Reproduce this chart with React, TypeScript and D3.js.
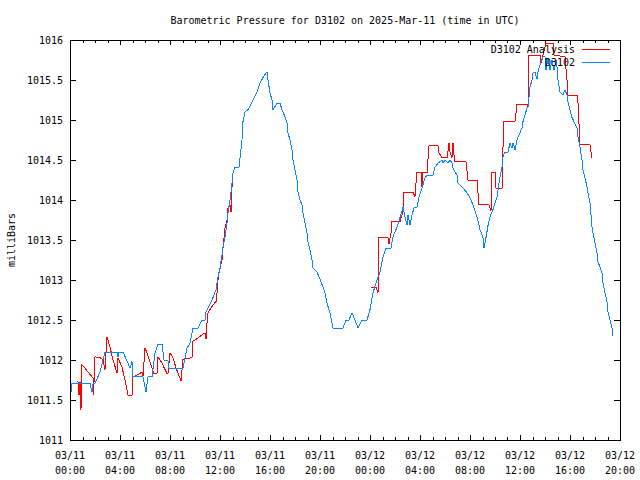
import React from "react";
import * as d3 from "d3";

// Hours since 2025-03-11 00:00 UTC and pressure (mb)
const stationHours = [
  0, 0.16, 1.6, 1.76, 1.84, 2.0, 2.4, 2.64, 2.8, 3.76, 3.84, 3.88, 4.24, 4.64, 4.8, 4.96, 5.04, 5.84, 6.08, 6.24,
  6.56, 6.8, 7.04, 7.36, 7.52, 7.84, 7.92, 9.04, 9.36, 9.6, 9.84, 10.24, 10.56, 10.8, 10.84, 11.04, 11.44, 11.68,
  11.84, 12.0, 12.24, 12.4, 12.56, 12.64, 12.8, 12.96, 13.04, 13.2, 13.52, 13.68, 13.76, 13.84, 14.0, 14.24, 14.64,
  14.96, 15.2, 15.44, 15.68, 15.76, 15.84, 16.0, 16.16, 16.24, 16.56, 16.8, 16.96, 17.2, 17.36, 17.44, 17.6, 17.76,
  17.84, 18.0, 18.16, 18.24, 18.4, 18.56, 18.64, 18.8, 18.96, 19.04, 19.2, 19.36, 19.44, 19.76, 20.0, 20.24, 20.4,
  20.56, 20.8, 21.04, 21.84, 22.08, 22.32, 22.56, 22.8, 23.04, 23.36, 23.76, 24.0, 24.24, 24.56, 24.8, 25.04, 25.28,
  25.68, 25.84, 26.16, 26.4, 26.64, 26.8, 26.96, 27.04, 27.2, 27.36, 27.52, 27.76, 27.92, 28.16, 28.4, 28.56, 29.04,
  29.2, 29.44, 29.76, 29.84, 30.0, 30.24, 30.4, 30.56, 30.64, 30.96, 31.04, 31.44, 31.76, 32.0, 32.24, 32.56, 32.8,
  33.04, 33.12, 33.28, 33.44, 33.6, 33.84, 34.16, 34.4, 34.56, 34.64, 34.8, 35.04, 35.2, 35.36, 35.44, 35.6, 35.76,
  35.84, 36.0, 36.16, 36.24, 36.4, 36.56, 36.64, 36.8, 36.96, 37.04, 37.2, 37.36, 37.44, 37.6, 37.76, 37.84, 38.0,
  38.08, 38.24, 38.4, 38.56, 38.72, 38.88, 38.96, 39.04, 39.2, 39.44, 39.6, 39.76, 39.84, 40.0, 40.16, 40.32, 40.56,
  40.64, 40.8, 40.96, 41.04, 41.2, 41.36, 41.44, 41.6, 41.68, 41.76, 41.84, 42.0, 42.16, 42.24, 42.4, 42.56, 42.64,
  42.8, 42.96, 43.04, 43.2, 43.36, 43.4,
];
const stationPressure = [
  1011.5, 1011.71, 1011.71, 1011.6, 1011.7, 1011.71, 1011.85, 1012.0, 1012.1, 1012.1, 1012.04, 1012.1, 1012.1,
  1011.96, 1011.9, 1011.98, 1011.79, 1011.79, 1011.6, 1011.79, 1011.79, 1012.09, 1012.2, 1012.2, 1012.0, 1011.99,
  1011.9, 1011.9, 1012.15, 1012.21, 1012.4, 1012.4, 1012.5, 1012.5, 1012.59, 1012.65, 1012.78, 1012.88, 1013.04,
  1013.15, 1013.4, 1013.54, 1013.71, 1013.84, 1014.0, 1014.21, 1014.34, 1014.41, 1014.41, 1014.63, 1014.75, 1014.98,
  1015.1, 1015.13, 1015.25, 1015.35, 1015.46, 1015.53, 1015.59, 1015.6, 1015.5, 1015.34, 1015.25, 1015.13, 1015.21,
  1015.21, 1015.13, 1015.04, 1014.96, 1014.84, 1014.75, 1014.63, 1014.5, 1014.38, 1014.25, 1014.1, 1014.0, 1013.94,
  1013.84, 1013.71, 1013.59, 1013.48, 1013.38, 1013.25, 1013.15, 1013.1, 1013.01, 1012.91, 1012.84, 1012.71,
  1012.59, 1012.4, 1012.4, 1012.5, 1012.5, 1012.59, 1012.5, 1012.4, 1012.5, 1012.5, 1012.63, 1012.84, 1013.0,
  1013.1, 1013.29, 1013.4, 1013.4, 1013.54, 1013.66, 1013.78, 1013.91, 1013.79, 1013.69, 1013.81, 1013.69, 1013.81,
  1013.9, 1013.91, 1014.04, 1014.15, 1014.28, 1014.31, 1014.31, 1014.41, 1014.46, 1014.5, 1014.46, 1014.5, 1014.46,
  1014.5, 1014.46, 1014.4, 1014.31, 1014.21, 1014.15, 1014.09, 1014.03, 1013.94, 1013.79, 1013.63, 1013.53, 1013.4,
  1013.53, 1013.68, 1013.79, 1013.88, 1014.04, 1014.29, 1014.41, 1014.54, 1014.6, 1014.6, 1014.71, 1014.65,
  1014.71, 1014.63, 1014.75, 1014.79, 1014.84, 1014.9, 1014.98, 1015.06, 1015.15, 1015.16, 1015.41, 1015.5,
  1015.59, 1015.6, 1015.51, 1015.6, 1015.69, 1015.75, 1015.79, 1015.79, 1015.63, 1015.78, 1015.63, 1015.75,
  1015.63, 1015.75, 1015.66, 1015.5, 1015.35, 1015.31, 1015.38, 1015.31, 1015.23, 1015.13, 1015.03, 1014.98,
  1014.9, 1014.79, 1014.66, 1014.5, 1014.38, 1014.28, 1014.16, 1014.09, 1013.96, 1013.81, 1013.66, 1013.59,
  1013.46, 1013.34, 1013.23, 1013.16, 1013.09, 1012.96, 1012.84, 1012.73, 1012.6, 1012.5, 1012.4, 1012.3,
];

// Analysis series (null = missing data gap)
const analysisHours = [
  0.56, 0.64, 0.72, 0.8, 0.88, 0.96, 1.2, 1.44, 1.76, 1.84, 1.88, 2.0, 2.4, 2.64, 2.8, 2.96, 3.04, 3.2, 3.44, 3.76,
  3.84, 3.92, 4.16, 4.4, 4.64, 4.96, 5.04, 5.36, 5.76, 5.84, 6.0, 6.16, 6.48, 6.72, 6.96, 7.04, 7.36, 7.76, 7.84,
  8.0, 8.24, 8.48, 8.88, 9.04, 9.76, 9.84, 10.0, 10.8, 10.88, 10.96, 11.04, 11.44, 11.68, 11.76, 11.84, 11.92,
  12.16, 12.24, 12.4, 12.56, 12.64, 12.8, 12.88, 12.96, 13.04,
  18.5,
  24.08, 24.48, 24.64, 24.68, 24.72, 25.44, 25.52, 25.68, 25.76, 26.4, 26.56, 26.64, 26.72, 27.44, 27.6, 27.68,
  27.76, 28.08, 28.16, 28.24, 28.48, 28.56, 28.72, 29.44, 29.52, 29.76, 30.16, 30.24, 30.32, 30.4, 30.56, 30.64,
  30.68, 30.8, 31.68, 31.84, 32.56, 32.72, 33.52, 33.68, 33.76, 34.0, 34.08, 34.56, 34.64, 34.72, 35.6, 35.76,
  36.56, 36.64, 36.72, 37.6, 37.68, 37.84, 38.08, 38.64, 38.72, 39.6, 39.76, 39.8, 40.56, 40.64, 40.8, 41.6, 41.68,
  41.76,
];
const analysisPressure: (number | null)[] = [
  1011.73, 1011.73, 1011.56, 1011.73, 1011.38, 1011.94, 1011.9, 1011.85, 1011.79, 1011.78, 1011.56, 1012.04,
  1012.03, 1012.0, 1011.88, 1012.29, 1012.25, 1012.16, 1012.0, 1011.84, 1012.03, 1012.0, 1011.91, 1011.75, 1011.56,
  1011.56, 1011.79, 1011.81, 1011.85, 1011.79, 1012.15, 1012.09, 1011.94, 1011.83, 1011.83, 1012.04, 1011.96,
  1011.83, 1011.83, 1012.09, 1012.03, 1011.9, 1011.74, 1012.01, 1012.03, 1012.24, 1012.25, 1012.34, 1012.26,
  1012.46, 1012.59, 1012.69, 1012.73, 1012.84, 1013.0, 1013.09, 1013.25, 1013.41, 1013.65, 1013.75, 1013.9,
  1013.94, 1013.85, 1014.16, 1014.29,
  null,
  1012.91, 1012.91, 1012.84, 1013.19, 1013.53, 1013.53, 1013.45, 1013.59, 1013.73, 1013.73, 1013.81, 1013.88,
  1014.1, 1014.1, 1014.04, 1014.21, 1014.35, 1014.35, 1014.16, 1014.35, 1014.35, 1014.34, 1014.68, 1014.68,
  1014.59, 1014.53, 1014.53, 1014.61, 1014.71, 1014.6, 1014.53, 1014.71, 1014.6, 1014.48, 1014.48, 1014.25,
  1014.25, 1013.94, 1013.94, 1013.86, 1014.35, 1014.35, 1014.15, 1014.15, 1014.66, 1014.98, 1014.98, 1015.2,
  1015.2, 1015.16, 1015.81, 1015.81, 1015.71, 1015.81, 1015.96, 1015.96, 1015.81, 1015.79, 1015.5, 1015.31,
  1015.31, 1015.21, 1014.69, 1014.69, 1014.6, 1014.53,
];

const yTicks = [1011, 1011.5, 1012, 1012.5, 1013, 1013.5, 1014, 1014.5, 1015, 1015.5, 1016];
const xTickHours = [0, 4, 8, 12, 16, 20, 24, 28, 32, 36, 40, 44];
const xTickDates = ["03/11", "03/11", "03/11", "03/11", "03/11", "03/11", "03/12", "03/12", "03/12", "03/12", "03/12", "03/12"];
const xTickTimes = ["00:00", "04:00", "08:00", "12:00", "16:00", "20:00", "00:00", "04:00", "08:00", "12:00", "16:00", "20:00"];
const minorHours = d3.range(0, 45, 1);

const title = "Barometric Pressure for D3102 on 2025-Mar-11 (time in UTC)";
const seriesNames = ["D3102 Analysis", "D3102"];
const seriesColors = ["#ff0000", "#0a84ff"];

const W = 640, H = 480;
const L = 70, R = 620, T = 40, B = 440;
const FONT = "'DejaVu Sans Mono', 'Liberation Mono', monospace";

export default function App() {
  const x = d3.scaleLinear().domain([0, 44]).range([L, R]);
  const y = d3.scaleLinear().domain([1011, 1016]).range([B, T]);

  const line = d3
    .line<[number, number | null]>()
    .defined((d) => d[1] != null)
    .x((d) => x(d[0]))
    .y((d) => y(d[1] as number));

  const analysis = analysisHours.map((h, i) => [h, analysisPressure[i]] as [number, number | null]);
  const station = stationHours.map((h, i) => [h, stationPressure[i]] as [number, number | null]);

  return (
    <svg
      width={W}
      height={H}
      style={{ position: "absolute", left: 0, top: 0, background: "#fff" }}
      fontFamily={FONT}
      fontSize={10}
    >
      <rect x={0} y={0} width={W} height={H} fill="#fff" />
      <text x={345} y={24} textAnchor="middle" fill="#000">{title}</text>

      {/* y ticks */}
      {yTicks.map((t) => (
        <g key={"y" + t}>
          <line x1={L} x2={L + 6} y1={Math.round(y(t)) + 0.5} y2={Math.round(y(t)) + 0.5} stroke="#000" shapeRendering="crispEdges" />
          <line x1={R - 6} x2={R} y1={Math.round(y(t)) + 0.5} y2={Math.round(y(t)) + 0.5} stroke="#000" shapeRendering="crispEdges" />
          <text x={63} y={y(t) + 4} textAnchor="end" fill="#000">{t}</text>
        </g>
      ))}

      {/* x minor ticks */}
      {minorHours.map((h) => (
        <g key={"m" + h}>
          <line x1={Math.round(x(h)) + 0.5} x2={Math.round(x(h)) + 0.5} y1={B} y2={B - 3} stroke="#000" shapeRendering="crispEdges" />
          <line x1={Math.round(x(h)) + 0.5} x2={Math.round(x(h)) + 0.5} y1={T} y2={T + 3} stroke="#000" shapeRendering="crispEdges" />
        </g>
      ))}
      {/* x major ticks */}
      {xTickHours.map((h, i) => (
        <g key={"x" + h}>
          <line x1={Math.round(x(h)) + 0.5} x2={Math.round(x(h)) + 0.5} y1={B} y2={B - 5} stroke="#000" shapeRendering="crispEdges" />
          <line x1={Math.round(x(h)) + 0.5} x2={Math.round(x(h)) + 0.5} y1={T} y2={T + 5} stroke="#000" shapeRendering="crispEdges" />
          <text x={x(h)} y={459} textAnchor="middle" fill="#000">{xTickDates[i]}</text>
          <text x={x(h)} y={474} textAnchor="middle" fill="#000">{xTickTimes[i]}</text>
        </g>
      ))}

      <text transform="translate(15,240) rotate(-90)" textAnchor="middle" fill="#000">milliBars</text>

      <path d={line(analysis) || ""} fill="none" stroke={seriesColors[0]} strokeWidth={1} shapeRendering="crispEdges" />
      <path d={line(station) || ""} fill="none" stroke={seriesColors[1]} strokeWidth={1} shapeRendering="crispEdges" />

      {/* legend */}
      {seriesNames.map((n, i) => (
        <g key={n}>
          <text x={575} y={53 + i * 13} textAnchor="end" fill="#000">{n}</text>
          <line x1={582} x2={610} y1={49.5 + i * 13} y2={49.5 + i * 13} stroke={seriesColors[i]} shapeRendering="crispEdges" />
        </g>
      ))}

      <rect x={L + 0.5} y={T + 0.5} width={R - L} height={B - T} fill="none" stroke="#000" shapeRendering="crispEdges" />
    </svg>
  );
}
